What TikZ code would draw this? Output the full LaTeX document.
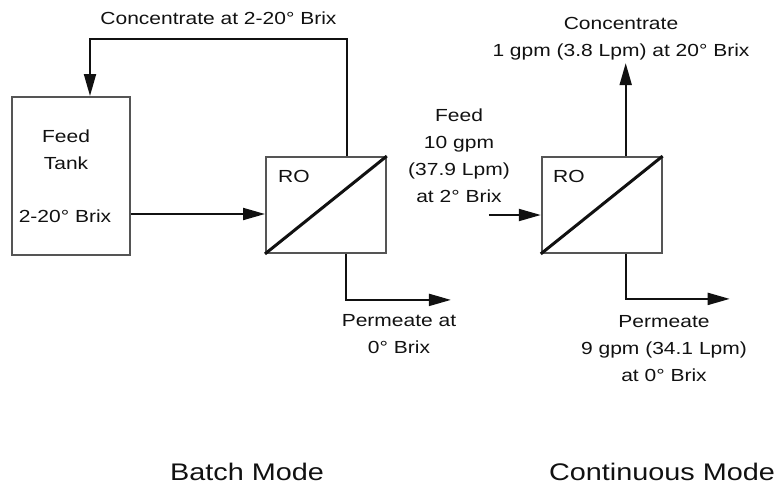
\documentclass[tikz,border=0pt]{standalone}
\usepackage{fontspec}
\setmainfont{Liberation Sans}[FakeStretch=1.2]
\usepackage{tikz}
\usetikzlibrary{arrows.meta, positioning}
\definecolor{rogray}{HTML}{555555}
\definecolor{roline}{HTML}{111111}

\begin{document}
\begin{tikzpicture}[
    x=1pt, y=-1pt,
    tank_node/.style={rectangle, draw=rogray, line width=2pt, minimum width=118pt, minimum height=158pt, inner sep=0pt},
    ro_node/.style={rectangle, draw=rogray, line width=1.8pt, minimum width=120pt, minimum height=96pt, inner sep=0pt},
    text_node/.style={align=center, text=roline, font=\fontsize{17.5}{27}\selectfont},
    title_node/.style={text=roline, font=\fontsize{24}{28}\selectfont},
    arrow/.style={-{Triangle[length=22pt, width=12pt]}, line width=2pt, draw=roline},
    membrane/.style={line width=3pt, draw=roline}
]
\useasboundingbox (0,0) rectangle (782,488);

% Batch
\node[tank_node] (tank) at (71,176) {};
\node[ro_node, right=134pt of tank, yshift=-29pt] (ro1) {};
\node[text_node] (tank_lbl) at (66,150) {Feed\\Tank};
\node[text_node] (tank_brix) at (65,216) {2-20° Brix};
\node[text_node, anchor=base west, inner sep=0pt] (ro1_lbl) at (278,182) {RO};
\node[text_node] (perm1_lbl) at (399,334) {Permeate at\\0° Brix};
\node[title_node] (batch) at (247,472) {Batch Mode};

% Continuous
\node[ro_node, right=154pt of ro1] (ro2) {};
\node[text_node, anchor=base west, inner sep=0pt] (ro2_lbl) at (553,182) {RO};
\node[text_node] (feed2_lbl) at (459,156) {Feed\\10 gpm\\(37.9 Lpm)\\at 2° Brix};
\node[text_node] (conc2_lbl) at (621,39) {Concentrate\\1 gpm (3.8 Lpm) at 20° Brix};
\node[text_node] (perm2_lbl) at (664,349) {Permeate\\9 gpm (34.1 Lpm)\\at 0° Brix};
\node[title_node] (cont) at (662,472) {Continuous Mode};

% Connections
\draw[membrane] (ro1.south west) -- (ro1.north east);
\draw[membrane] (ro2.south west) -- (ro2.north east);
\draw[arrow] ([xshift=21pt]ro1.north) -- ++(0,-117) -| node[text_node, above=10pt, pos=0.25] (conc1_lbl) {Concentrate at 2-20° Brix} ([xshift=19pt]tank.north);
\draw[arrow] ([yshift=-38pt]tank.east) -- ([yshift=-9pt]ro1.west);
\draw[arrow] ([xshift=20pt]ro1.south) -- ++(0,46) -- ++(105,0);
\draw[arrow] ([xshift=-52pt, yshift=-10pt]ro2.west) -- ([yshift=-10pt]ro2.west);
\draw[arrow] ([xshift=24pt]ro2.north) -- ++(0,-93);
\draw[arrow] ([xshift=24pt]ro2.south) -- ++(0,45) -- ++(104,0);

\end{tikzpicture}
\end{document}
